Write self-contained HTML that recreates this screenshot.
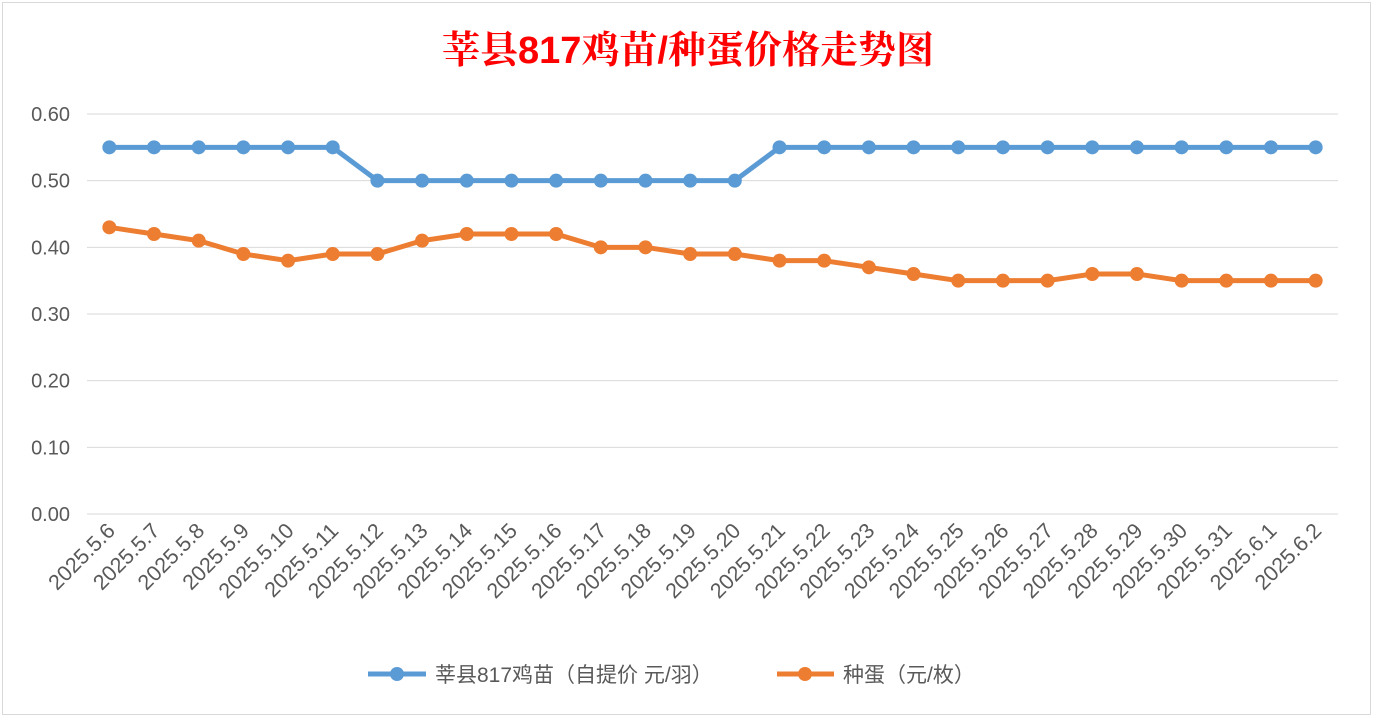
<!DOCTYPE html>
<html><head><meta charset="utf-8"><style>
body{margin:0;background:#fff;}
svg text{font-family:"Liberation Sans","Noto Sans CJK SC",sans-serif;}
</style></head><body>
<svg id="chart" width="1375" height="719" xmlns="http://www.w3.org/2000/svg">
<rect x="0" y="0" width="1375" height="719" fill="#fff"/>
<rect x="2.5" y="2.5" width="1368" height="712" fill="#fff" stroke="#d9d9d9"/>
<text x="688" y="63" text-anchor="middle" font-size="38" font-weight="bold" fill="#ff0000" style="font-family:'Liberation Sans','Noto Serif CJK SC',serif">莘县817鸡苗/种蛋价格走势图</text>
<g id="grid"></g><g id="yticks"></g><g id="xticks"></g><g id="series"></g>
<g>
<line x1="368" y1="674" x2="426" y2="674" stroke="#5b9bd5" stroke-width="5"/>
<circle cx="397" cy="674" r="7" fill="#5b9bd5"/>
<text x="435" y="682" font-size="21" fill="#595959">莘县817鸡苗（自提价 元/羽）</text>
<line x1="777" y1="674" x2="834" y2="674" stroke="#ed7d31" stroke-width="5"/>
<circle cx="805" cy="674" r="7" fill="#ed7d31"/>
<text x="843" y="682" font-size="21" fill="#595959">种蛋（元/枚）</text>
</g>
</svg>
<script>
const categories=["2025.5.6","2025.5.7","2025.5.8","2025.5.9","2025.5.10","2025.5.11","2025.5.12","2025.5.13","2025.5.14","2025.5.15","2025.5.16","2025.5.17","2025.5.18","2025.5.19","2025.5.20","2025.5.21","2025.5.22","2025.5.23","2025.5.24","2025.5.25","2025.5.26","2025.5.27","2025.5.28","2025.5.29","2025.5.30","2025.5.31","2025.6.1","2025.6.2"];
const chickPrices=[0.55,0.55,0.55,0.55,0.55,0.55,0.50,0.50,0.50,0.50,0.50,0.50,0.50,0.50,0.50,0.55,0.55,0.55,0.55,0.55,0.55,0.55,0.55,0.55,0.55,0.55,0.55,0.55];
const eggPrices=[0.43,0.42,0.41,0.39,0.38,0.39,0.39,0.41,0.42,0.42,0.42,0.40,0.40,0.39,0.39,0.38,0.38,0.37,0.36,0.35,0.35,0.35,0.36,0.36,0.35,0.35,0.35,0.35];
const yTicks=[0,0.1,0.2,0.3,0.4,0.5,0.6];
const NS="http://www.w3.org/2000/svg";
const L=87,R=1338,T=114,B=514,yMax=0.6;
const bw=(R-L)/categories.length;
const xS=i=>L+bw*(i+0.5);
const yS=v=>B-(v/yMax)*(B-T);
function mk(tag,parent,attrs){const e=document.createElementNS(NS,tag);for(const k in attrs)e.setAttribute(k,attrs[k]);document.getElementById(parent).appendChild(e);return e;}
yTicks.forEach(v=>{
  const l=mk('line','grid',{x1:L,x2:R,y1:yS(v),y2:yS(v),stroke:'#d9d9d9','stroke-width':1});
  
  
  const t=mk('text','yticks',{x:70,y:yS(v)+7,'text-anchor':'end','font-size':20,fill:'#595959'});
  t.textContent=v.toFixed(2);
  
  
});
categories.forEach((c,i)=>{
  const x=xS(i)+7,y=532;
  const t=mk('text','xticks',{x:x,y:y,'text-anchor':'end','font-size':21.5,fill:'#595959',transform:`rotate(-45 ${x} ${y})`});
  t.textContent=c;
  
  
});
function series(vals,color,name){
  const p=mk('polyline','series',{points:vals.map((v,i)=>xS(i)+','+yS(v)).join(' '),fill:'none',stroke:color,'stroke-width':5,'stroke-linejoin':'round'});
  
  
  vals.forEach((v,i)=>{
    const c=mk('circle','series',{cx:xS(i),cy:yS(v),r:7,fill:color});
    
    
  });
}
series(chickPrices,'#5b9bd5','chick-price');
series(eggPrices,'#ed7d31','egg-price');
</script>
</body></html>
